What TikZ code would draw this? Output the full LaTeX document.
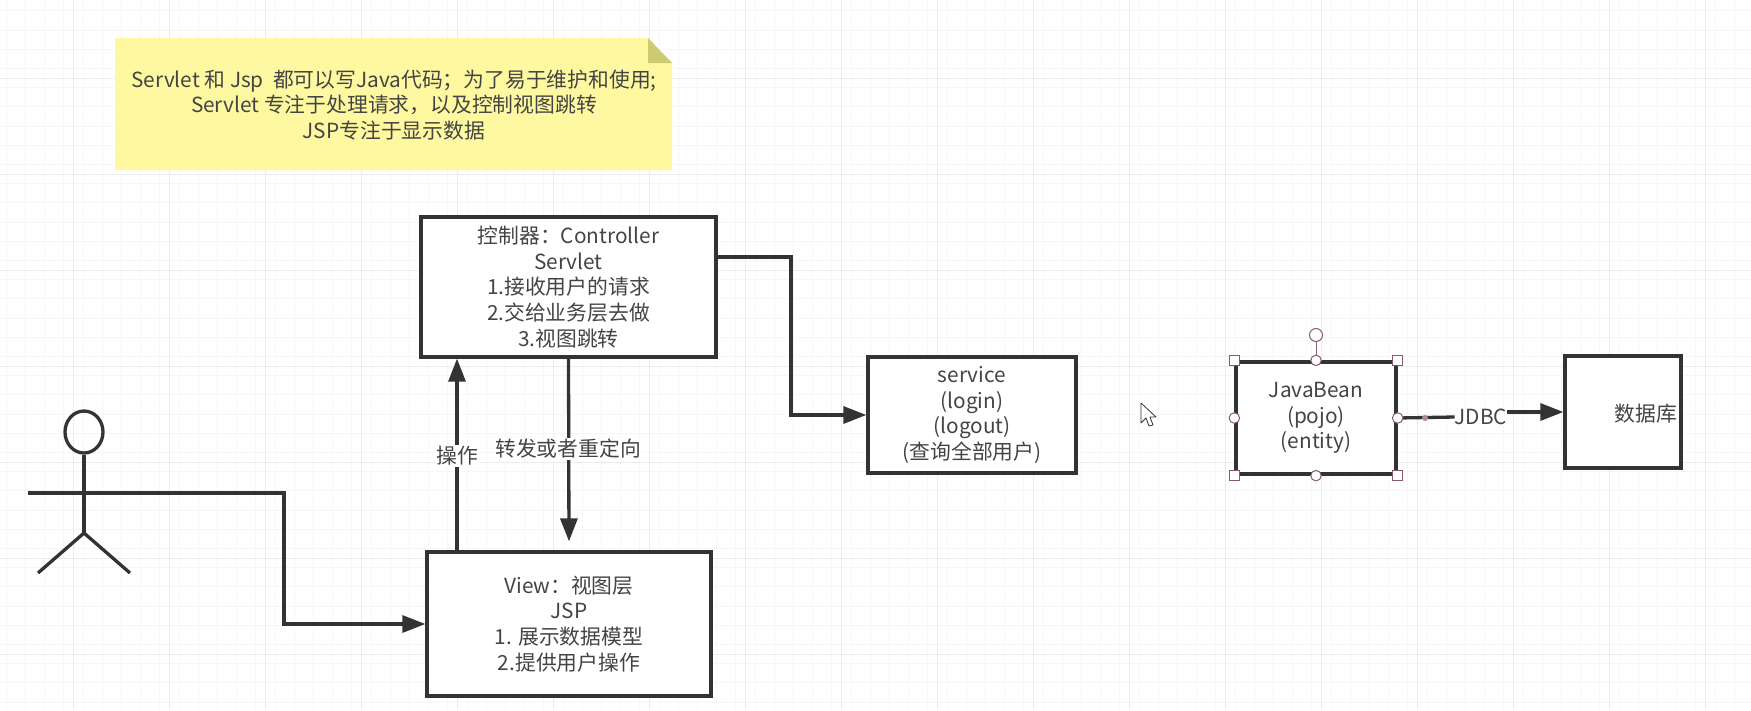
\documentclass[tikz,border=0pt]{standalone}
\usepackage{fontspec}
\setmainfont{Noto Sans CJK SC}
\usetikzlibrary{arrows.meta,shapes.geometric}
\definecolor{inkcol}{HTML}{333333}
\definecolor{textcol}{HTML}{444444}
\definecolor{gridminor}{HTML}{F6F6F6}
\definecolor{gridmajor}{HTML}{ECECEC}
\definecolor{notecol}{HTML}{FEF9A0}
\definecolor{foldcol}{HTML}{CDCB72}
\definecolor{handlecol}{HTML}{8A5A66}
\tikzset{
  mvcbox/.style={draw=inkcol, line width=3.3pt, fill=white, inner sep=0pt, align=center,
    text=textcol},
  conn/.style={draw=inkcol, line width=3.3pt},
  lbl/.style={fill=white, inner sep=1pt, text=textcol},
  plain/.style={inner sep=0pt, align=center, text=textcol},
  sqhandle/.style={draw=handlecol, fill=white, line width=1pt, minimum size=10pt, inner sep=0pt},
  ochandle/.style={draw=handlecol, fill=white, line width=1pt, circle, minimum size=10.5pt, inner sep=0pt},
}
\begin{document}
\begin{tikzpicture}[x=1pt, y=-1pt, >={Triangle[length=23pt,width=17pt]},
    every node/.append style={font=\fontsize{20.8}{25.7}\selectfont}]
  \useasboundingbox (0,0) rectangle (1751,710);
  \fill [white] (0,0) rectangle (1751,710);

  \foreach \i in {0,...,91} {
    \draw [gridminor, line width=1pt] (\i*19.2+6.2,0) -- (\i*19.2+6.2,710);
  }
  \foreach \i in {0,...,36} {
    \draw [gridminor, line width=1pt] (0,\i*19.2+10.8) -- (1751,\i*19.2+10.8);
  }
  \foreach \i in {0,...,18} {
    \draw [gridmajor, line width=1pt] (\i*96+73,0) -- (\i*96+73,710);
  }
  \foreach \i in {0,...,7} {
    \draw [gridmajor, line width=1pt] (0,\i*96-18) -- (1751,\i*96-18);
  }

  \fill [notecol] (115,38) -- (648,38) -- (672,63) -- (672,170) -- (115,170) -- cycle;
  \fill [foldcol] (648,38) -- (672,63) -- (648,63) -- cycle;
  \node [plain] (note) at (394,105) {Servlet 和 Jsp\ \ 都可以写Java代码；为了易于维护和使用;\\
    Servlet 专注于处理请求，以及控制视图跳转\\JSP专注于显示数据};

  \node [mvcbox, minimum width=295pt, minimum height=140pt] (ctrl) at (568.5,287)
    {控制器：Controller\\Servlet\\1.接收用户的请求\\2.交给业务层去做\\3.视图跳转};
  \node [mvcbox, minimum width=284pt, minimum height=144pt] (view) at (569,624)
    {View：视图层\\JSP\\1. 展示数据模型\\2.提供用户操作};
  \node [mvcbox, minimum width=208pt, minimum height=116pt] (service) at (972,415)
    {service\\(login)\\(logout)\\(查询全部用户)};
  \node [mvcbox, minimum width=160pt, minimum height=112pt] (bean) at (1316,418)
    {JavaBean\\(pojo)\\(entity)};
  \node [mvcbox, minimum width=116pt, minimum height=112pt] (db) at (1623,412) {};
  \node [plain] (dbtext) at (1646,414) {数据库};

  \node [draw=inkcol, line width=3.3pt, ellipse, minimum width=38pt, minimum height=42pt,
    inner sep=0pt] (head) at (84,432) {};
  \coordinate (hip) at (84,533);
  \coordinate (armL) at (28,493);
  \coordinate (armR) at (141,493);
  \coordinate (legL) at (38,573);
  \coordinate (legR) at (130,573);
  \coordinate (bendA) at (284,493);
  \coordinate (upx) at (457,0);
  \coordinate (bendB) at (791,257);
  \draw [conn] (head.south) -- (hip);
  \draw [conn] (armL) -- (armR);
  \draw [conn] (legL) -- (hip) -- (legR);

  \draw [conn, ->] (armR) -- (bendA) |- (view.west);
  \draw [conn, ->] (view.north -| upx) -- (ctrl.south -| upx);
  \node [lbl] (oplabel) at (457,456) {操作};
  \draw [conn, ->, shorten >=9pt] (ctrl.south) -- (view.north);
  \node [lbl] (fwlabel) at (568,449) {转发或者重定向};
  \draw [conn, ->] (ctrl.east |- bendB) -- (bendB) |- (service.west);

  \node [fill=white, inner sep=0pt, text=textcol] (jdbc) at (1481,417) {JDBC};
  \draw [conn] (bean.east) -- (jdbc.west);
  \draw [conn, ->] (jdbc.east |- db.west) -- (db.west);
  \fill [handlecol!70!white] (1425,418) circle (3pt);

  \node [ochandle, minimum size=13pt] (rot) at (1316,335) {};
  \draw [handlecol, line width=1pt] (rot) -- (bean.north);
  \foreach \a in {north west, north east, south west, south east} {
    \node [sqhandle] at (bean.\a) {};
  }
  \foreach \a in {north, south, east, west} {
    \node [ochandle] at (bean.\a) {};
  }

  \draw [inkcol, fill=white, line width=0.8pt, line join=round]
    (1141,403) -- (1141,423) -- (1146,418) -- (1149,426) -- (1153,425) -- (1150,417) -- (1156,417) -- cycle;
\end{tikzpicture}
\end{document}
